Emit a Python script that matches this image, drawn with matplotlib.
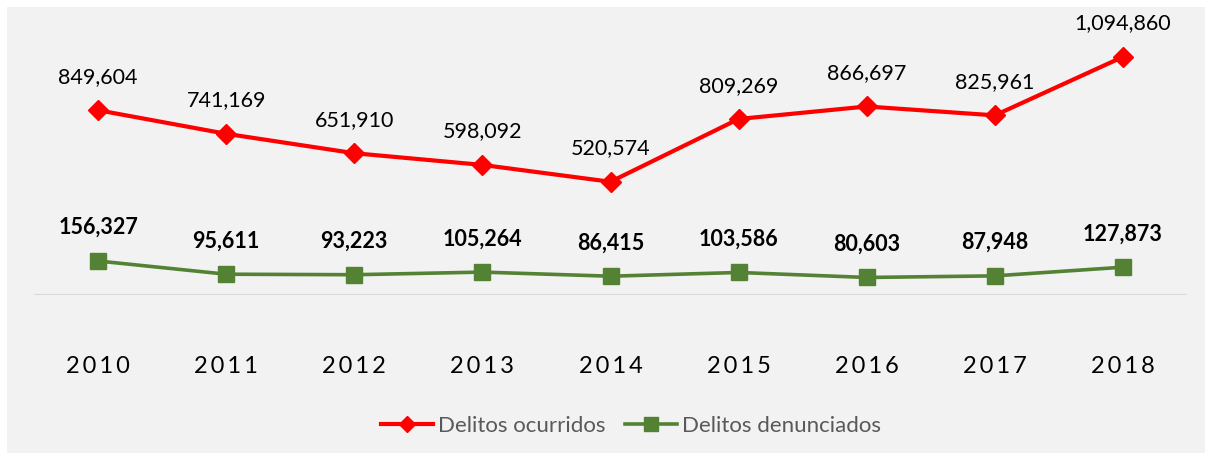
import matplotlib
matplotlib.use("Agg")
import matplotlib.pyplot as plt
from matplotlib.patches import Rectangle

years = ["2010", "2011", "2012", "2013", "2014", "2015", "2016", "2017", "2018"]
ocurridos = [849604, 741169, 651910, 598092, 520574, 809269, 866697, 825961, 1094860]
denunciados = [156327, 95611, 93223, 105264, 86415, 103586, 80603, 87948, 127873]

RED = "#ff0000"
GREEN = "#548235"
BG = "#f2f2f2"
FONT = ["Lato", "DejaVu Sans"]


def main():
    plt.rcParams["font.family"] = FONT
    W, H = 1205, 455
    fig = plt.figure(figsize=(W / 100, H / 100), dpi=100, facecolor="white")
    fig.patches.append(Rectangle((7 / W, 2 / H), 1 - 7 / W, 1 - 9 / H,
                                 transform=fig.transFigure, facecolor=BG,
                                 edgecolor="none", zorder=-10))

    ax = fig.add_axes([34 / W, (H - 295) / H, (1187 - 34) / W, 261 / H])
    ax.set_facecolor("none")
    x = list(range(len(years)))

    ax.plot(x, ocurridos, color=RED, lw=3.0, marker="D", ms=10,
            label="Delitos ocurridos", zorder=3)
    ax.plot(x, denunciados, color=GREEN, lw=2.6, marker="s", ms=12,
            label="Delitos denunciados", zorder=3)

    for xi, v in zip(x, ocurridos):
        ax.annotate(f"{v:,}", (xi, v), xytext=(0, 24), textcoords="offset points",
                    ha="center", va="center", fontsize=15.5, color="#000000")
    for xi, v in zip(x, denunciados):
        ax.annotate(f"{v:,}", (xi, v), xytext=(0, 24), textcoords="offset points",
                    ha="center", va="center", fontsize=15.5, fontweight="bold",
                    color="#000000")

    ax.axhline(0, color="#d9d9d9", lw=1.5, zorder=1)
    ax.set_xlim(-0.5, len(years) - 0.5)
    ax.set_ylim(0, 1200000)
    ax.set_yticks([])
    ax.set_xticks(x)
    ax.set_xticklabels(["\u2009".join(y) for y in years], fontsize=17)
    ax.tick_params(axis="x", length=0, pad=44)
    for s in ax.spines.values():
        s.set_visible(False)

    fig.legend(loc="center", bbox_to_anchor=(631 / W, 1 - 426 / H), ncol=2,
               frameon=False, fontsize=16, labelcolor="#595959",
               handlelength=2.35, handletextpad=0.22, columnspacing=0.85,
               markerscale=0.85)

    fig.savefig("out.png", dpi=100, facecolor="white")


if __name__ == "__main__":
    main()
